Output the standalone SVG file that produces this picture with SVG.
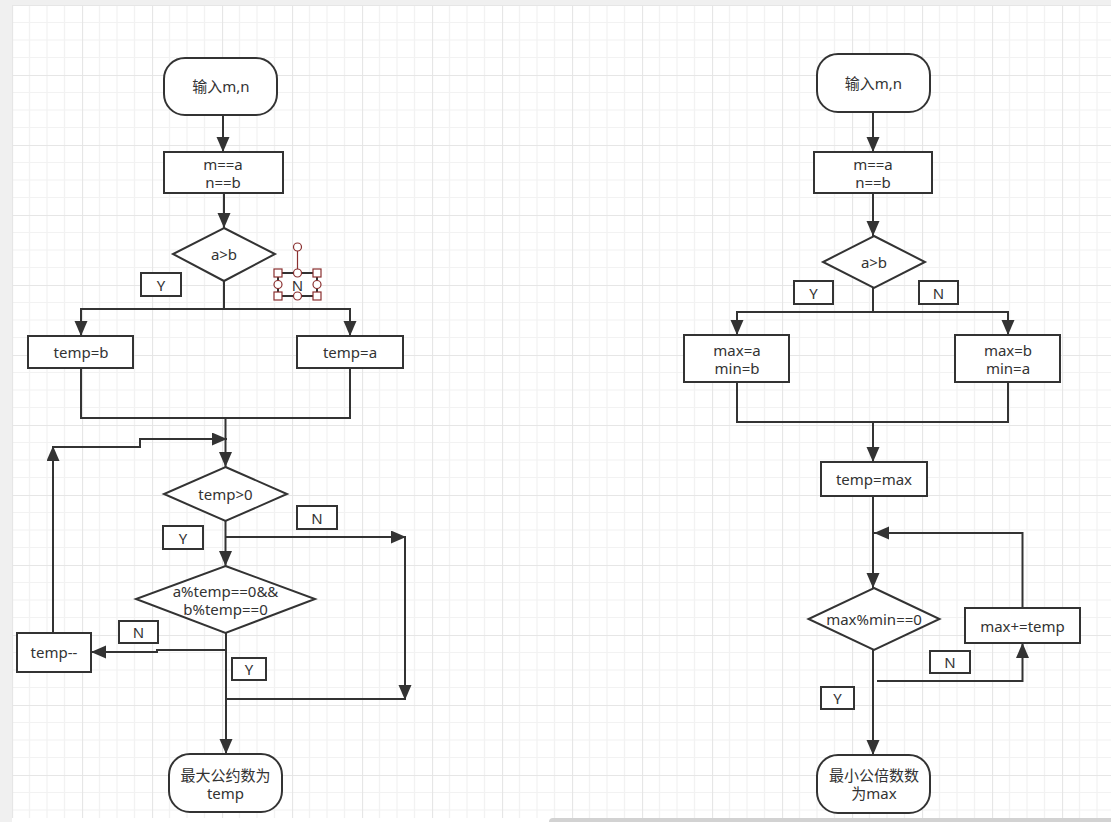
<svg xmlns="http://www.w3.org/2000/svg" width="1111" height="822" viewBox="0 0 1111 822">
<defs>
<pattern id="grid" patternUnits="userSpaceOnUse" x="12" y="5" width="70" height="70">
<rect width="70" height="70" fill="#ffffff"/>
<path d="M17.5,0V70M35,0V70M52.5,0V70M0,17.5H70M0,35H70M0,52.5H70" stroke="#f2f2f2" stroke-width="1.2" fill="none"/>
<path d="M0.5,0V70M0,0.5H70" stroke="#e6e6e6" stroke-width="1.2" fill="none"/>
</pattern>
<marker id="arr" markerUnits="userSpaceOnUse" markerWidth="16" markerHeight="14" refX="15" refY="6.5" orient="auto">
<path d="M0,0L15,6.5L0,13z" fill="#333"/>
</marker>
<style>
.box{fill:#fff;stroke:#333;stroke-width:2}
.lbl{fill:#fff;stroke:#333;stroke-width:2}
.t{font-family:"Noto Sans","Noto Sans CJK SC",sans-serif;font-size:15px;fill:#333;text-anchor:middle;dominant-baseline:central}
.c{fill:none;stroke:#333;stroke-width:2}
.a{marker-end:url(#arr)}
.h{fill:#fff;stroke:#8a2f2f;stroke-width:1.2}
</style>
</defs>
<rect width="1111" height="822" fill="#f0f0f0"/>
<rect x="12" y="5" width="1099" height="813" fill="url(#grid)"/>
<rect x="12" y="818" width="1099" height="4" fill="#ffffff"/>
<rect x="549" y="818" width="570" height="8" rx="4" fill="#d2d2d2"/>

<g id="connectors">
<path class="c a" d="M223,115V152"/>
<path class="c a" d="M224,193V228"/>
<path class="c a" d="M224,281V309H81V336"/>
<path class="c a" d="M224,309H350V336"/>
<path class="c" d="M81,368V418H350V368"/>
<path class="c a" d="M225.5,418V467"/>
<path class="c a" d="M53,633V446"/>
<path class="c a" d="M53,447H140V439H227"/>
<path class="c a" d="M225.5,521V566"/>
<path class="c a" d="M226,537H406"/>
<path class="c a" d="M405,537V700"/>
<path class="c" d="M226,699H405"/>
<path class="c a" d="M226,650H157V652H91"/>
<path class="c a" d="M226,633V754"/>

<path class="c a" d="M873,112V152"/>
<path class="c a" d="M873,193V236"/>
<path class="c a" d="M873,288V312H737V335"/>
<path class="c a" d="M873,312H1008V335"/>
<path class="c" d="M737,382V422H1008V382"/>
<path class="c a" d="M873,422V462"/>
<path class="c a" d="M873,496V588"/>
<path class="c a" d="M1022.5,608V533H874"/>
<path class="c a" d="M877,681H1022.5V643"/>
<path class="c a" d="M873,650V755"/>
</g>

<g id="L-start"><rect class="box" x="164" y="58" width="113" height="57" rx="21"/><text class="t" x="221" y="86">输入m,n</text></g>
<g id="L-assign"><rect class="box" x="164" y="152" width="119" height="41"/><text class="t" x="223" y="164">m==a</text><text class="t" x="223" y="182">n==b</text></g>
<g id="L-cond1"><polygon class="box" points="224,228 275,254 224,281 173,254"/><text class="t" x="224" y="254">a&gt;b</text></g>
<g id="L-Y1"><rect class="lbl" x="141" y="273" width="40" height="23"/><text class="t" x="161" y="284.5">Y</text></g>
<g id="L-N1"><rect class="lbl" x="278" y="273" width="39" height="23"/><text class="t" x="297.5" y="284.5">N</text>
<line x1="297.5" y1="251" x2="297.5" y2="269" stroke="#8a2f2f" stroke-width="1.2"/>
<circle class="h" cx="297.5" cy="247" r="4"/>
<rect class="h" x="274" y="269" width="8" height="8"/><rect class="h" x="313" y="269" width="8" height="8"/>
<rect class="h" x="274" y="292" width="8" height="8"/><rect class="h" x="313" y="292" width="8" height="8"/>
<circle class="h" cx="297.5" cy="273" r="4"/><circle class="h" cx="297.5" cy="296" r="4"/>
<circle class="h" cx="278" cy="284.5" r="4"/><circle class="h" cx="317" cy="284.5" r="4"/>
</g>
<g id="L-tempb"><rect class="box" x="28" y="336" width="105" height="32"/><text class="t" x="81" y="352">temp=b</text></g>
<g id="L-tempa"><rect class="box" x="297" y="336" width="106" height="32"/><text class="t" x="350" y="352">temp=a</text></g>
<g id="L-cond2"><polygon class="box" points="225.5,467 287,494 225.5,521 164,494"/><text class="t" x="225.5" y="494">temp&gt;0</text></g>
<g id="L-N2"><rect class="lbl" x="297" y="506" width="40" height="23"/><text class="t" x="317" y="517.5">N</text></g>
<g id="L-Y2"><rect class="lbl" x="163" y="526" width="40" height="23"/><text class="t" x="183" y="537.5">Y</text></g>
<g id="L-cond3"><polygon class="box" points="225.5,566 315,599 225.5,633 136,599"/><text class="t" x="225.5" y="591">a%temp==0&amp;&amp;</text><text class="t" x="225.5" y="609">b%temp==0</text></g>
<g id="L-dec"><rect class="box" x="17" y="633" width="74" height="39"/><text class="t" x="54" y="652">temp--</text></g>
<g id="L-N3"><rect class="lbl" x="119" y="621" width="39" height="22"/><text class="t" x="138.5" y="632">N</text></g>
<g id="L-Y3"><rect class="lbl" x="232" y="658" width="34" height="22"/><text class="t" x="249" y="669">Y</text></g>
<g id="L-end"><rect class="box" x="169" y="754" width="113" height="58" rx="21"/><text class="t" x="225.5" y="775">最大公约数为</text><text class="t" x="225.5" y="793">temp</text></g>

<g id="R-start"><rect class="box" x="817" y="54" width="113" height="58" rx="21"/><text class="t" x="873.5" y="83">输入m,n</text></g>
<g id="R-assign"><rect class="box" x="814" y="152" width="118" height="41"/><text class="t" x="873" y="164">m==a</text><text class="t" x="873" y="182">n==b</text></g>
<g id="R-cond1"><polygon class="box" points="874,236 925,262 874,288 823,262"/><text class="t" x="874" y="262">a&gt;b</text></g>
<g id="R-Y1"><rect class="lbl" x="794" y="281" width="39" height="23"/><text class="t" x="813.5" y="292.5">Y</text></g>
<g id="R-N1"><rect class="lbl" x="919" y="281" width="39" height="23"/><text class="t" x="938.5" y="292.5">N</text></g>
<g id="R-maxa"><rect class="box" x="684" y="335" width="105" height="47"/><text class="t" x="737" y="350">max=a</text><text class="t" x="737" y="368">min=b</text></g>
<g id="R-maxb"><rect class="box" x="955" y="335" width="105" height="47"/><text class="t" x="1008" y="350">max=b</text><text class="t" x="1008" y="368">min=a</text></g>
<g id="R-temp"><rect class="box" x="821" y="462" width="106" height="34"/><text class="t" x="874" y="479">temp=max</text></g>
<g id="R-cond2"><polygon class="box" points="874,588 939.5,619 874,650 808.5,619"/><text class="t" x="874" y="618.5">max%min==0</text></g>
<g id="R-inc"><rect class="box" x="965" y="608" width="115" height="35"/><text class="t" x="1022.5" y="626">max+=temp</text></g>
<g id="R-N2"><rect class="lbl" x="930" y="651" width="40" height="22"/><text class="t" x="950" y="662">N</text></g>
<g id="R-Y2"><rect class="lbl" x="821" y="687" width="33" height="22"/><text class="t" x="837.5" y="698">Y</text></g>
<g id="R-end"><rect class="box" x="817" y="755" width="113" height="58" rx="21"/><text class="t" x="874" y="775">最小公倍数数</text><text class="t" x="874" y="793">为max</text></g>
</svg>
